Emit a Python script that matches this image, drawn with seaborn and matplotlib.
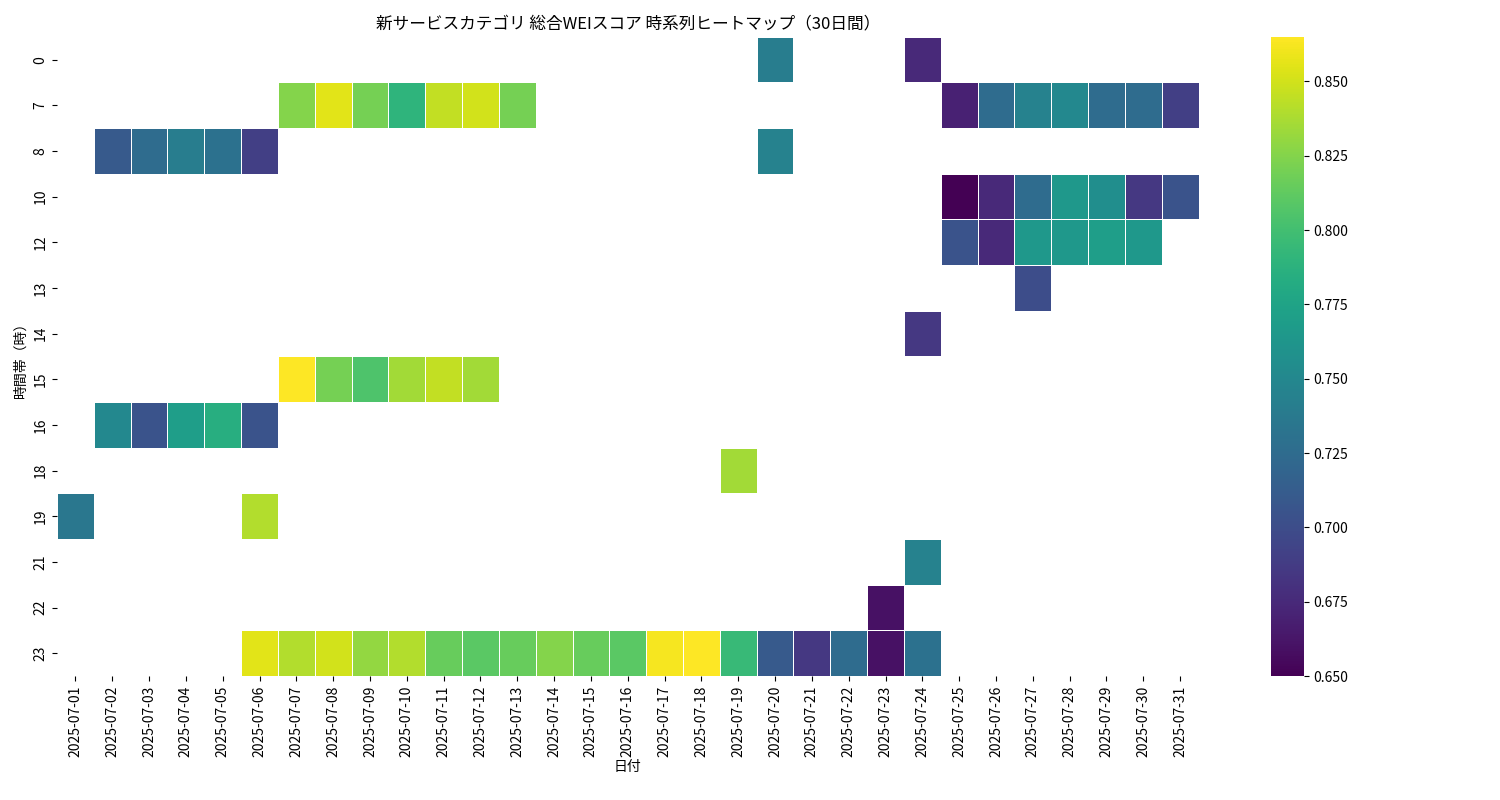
import pandas as pd
import numpy as np
import matplotlib
matplotlib.use('Agg')
import matplotlib.pyplot as plt
import seaborn as sns

plt.rcParams['font.family'] = 'Noto Sans CJK JP'

# 日付・時間帯・スコア
dates = [f'2025-07-{d:02d}' for d in range(1, 32)]
hours = [0, 7, 8, 10, 12, 13, 14, 15, 16, 18, 19, 21, 22, 23]

cell_day = [20, 24,
            7, 8, 9, 10, 11, 12, 13, 25, 26, 27, 28, 29, 30, 31,
            2, 3, 4, 5, 6, 20,
            25, 26, 27, 28, 29, 30, 31,
            25, 26, 27, 28, 29, 30,
            27,
            24,
            7, 8, 9, 10, 11, 12,
            2, 3, 4, 5, 6,
            19,
            1, 6,
            24,
            23,
            6, 7, 8, 9, 10, 11, 12, 13, 14, 15, 16, 17, 18, 19, 20, 21, 22, 23, 24]
cell_hour = ([0] * 2 + [7] * 14 + [8] * 6 + [10] * 7 + [12] * 6 + [13] + [14]
             + [15] * 6 + [16] * 5 + [18] + [19] * 2 + [21] + [22] + [23] * 19)
cell_score = [0.740, 0.675,
              0.825, 0.855, 0.820, 0.790, 0.845, 0.850, 0.820,
              0.670, 0.725, 0.745, 0.750, 0.725, 0.725, 0.690,
              0.710, 0.725, 0.740, 0.730, 0.690, 0.745,
              0.650, 0.675, 0.725, 0.765, 0.755, 0.685, 0.705,
              0.705, 0.675, 0.765, 0.765, 0.770, 0.765,
              0.700,
              0.685,
              0.865, 0.820, 0.805, 0.835, 0.845, 0.835,
              0.750, 0.705, 0.770, 0.785, 0.705,
              0.835,
              0.735, 0.840,
              0.745,
              0.660,
              0.855, 0.840, 0.850, 0.830, 0.840, 0.815, 0.810, 0.815, 0.825,
              0.815, 0.810, 0.862, 0.865, 0.795, 0.710, 0.685, 0.725, 0.660, 0.730]

df = pd.DataFrame({'日付': [dates[d - 1] for d in cell_day],
                   '時間帯（時）': cell_hour, 'score': cell_score})
pivot = df.pivot(index='時間帯（時）', columns='日付', values='score')
pivot = pivot.reindex(index=hours, columns=dates)

fig = plt.figure(figsize=(15, 8), dpi=100)
ax = fig.add_axes([0.038, 0.155, 0.761, 0.799])
cax = fig.add_axes([0.847, 0.155, 0.022, 0.799])
sns.heatmap(pivot, cmap='viridis', linewidths=0.5, linecolor='white', ax=ax, cbar_ax=cax)
ax.set_title('新サービスカテゴリ 総合WEIスコア 時系列ヒートマップ（30日間）', fontsize=12)
ax.set_xlabel('日付', labelpad=2)
ax.set_ylabel('時間帯（時）')
ax.tick_params(axis='x', rotation=90)
plt.savefig('out.png')
